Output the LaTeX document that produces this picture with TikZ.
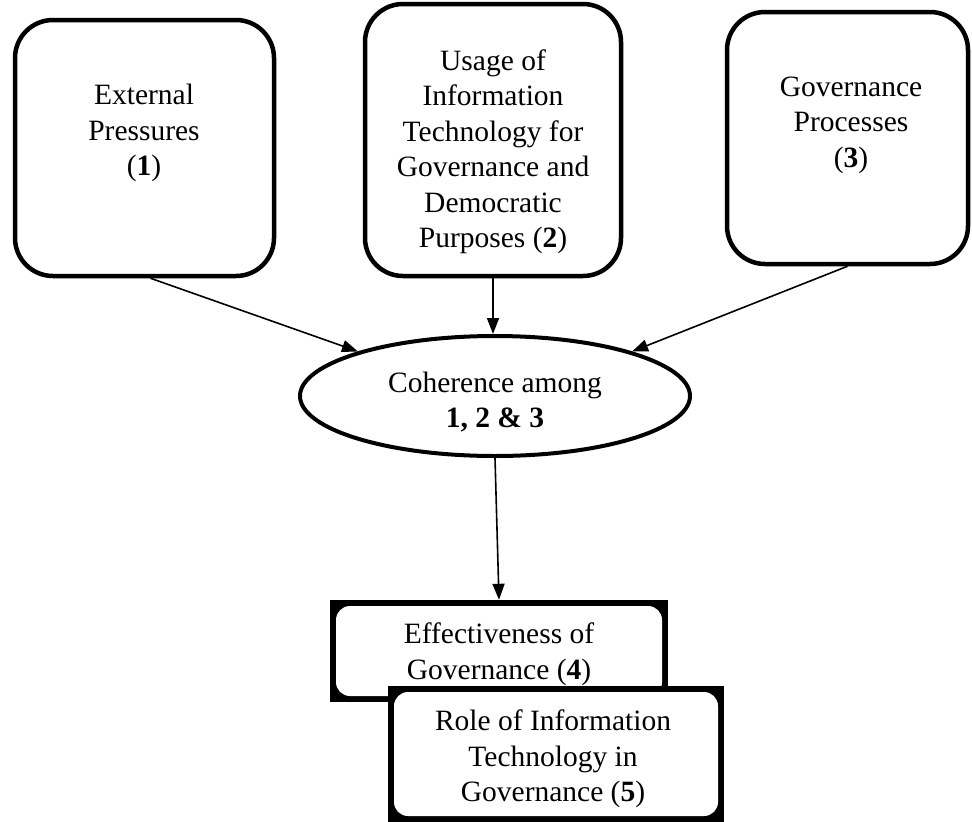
\documentclass[tikz,border=0pt]{standalone}
\usepackage{fontspec}
\setmainfont{Liberation Serif}
\usetikzlibrary{arrows.meta,calc,shapes.geometric}
\begin{document}
\begin{tikzpicture}[x=1pt,y=-1pt,
  txt/.style={align=center,inner sep=0pt,font=\fontsize{29.5}{35.5}\selectfont},
  topbox/.style={draw,line width=4.5pt,rounded corners=38pt,inner sep=0pt},
  oval/.style={draw,ellipse,line width=4pt,inner sep=0pt,minimum width=390pt,minimum height=120pt},
  frame/.style={fill=black,inner sep=0pt},
  framein/.style={fill=white,rounded corners=14pt,inner sep=0pt},
  link/.style={line width=1.6pt,-{Triangle[length=16pt,width=12pt]}}]
\useasboundingbox (0,0) rectangle (972,822);

% top row of boxes
\node[topbox,minimum width=259pt,minimum height=256pt] (box1) at (144.5,148) {};
\node[topbox,minimum width=256pt,minimum height=272pt] (box2) at (493,140) {};
\node[topbox,minimum width=241pt,minimum height=252pt] (box3) at (847.5,138) {};
\node[txt] (t1) at (144,133) {External\\Pressures\\(\textbf{1})};
\node[txt] (t2) at (493,152) {Usage of\\Information\\Technology for\\Governance and\\Democratic\\Purposes (\textbf{2})};
\node[txt] (t3) at (851,125) {Governance\\Processes\\(\textbf{3})};

% central ellipse
\node[oval] (coh) at (495,396) {};
\node[txt] (tc) at (495,402) {Coherence among\\\textbf{1, 2 \& 3}};

% framed boxes at the bottom
\node[frame,minimum width=338pt,minimum height=102pt] (box4) at (499,651) {};
\node[framein,minimum width=326pt,minimum height=90pt] (box4in) at (499,651) {};
\node[txt] (t4) at (499,654) {Effectiveness of\\Governance (\textbf{4})};
\node[frame,minimum width=336pt,minimum height=136pt] (box5) at (556,754) {};
\node[framein,minimum width=324pt,minimum height=124pt] (box5in) at (556,754) {};
\node[txt] (t5) at (553,759) {Role of Information\\Technology in\\Governance (\textbf{5})};

% connectors
\draw[link] ($(box1.south)+(6,0)$) -- (coh.162);
\draw[link] (box2.south) -- (box2.south |- coh.north);
\draw[link] (box3.south) -- (coh.18);
\draw[link] (coh.south) -- (box4.north);
\end{tikzpicture}
\end{document}
